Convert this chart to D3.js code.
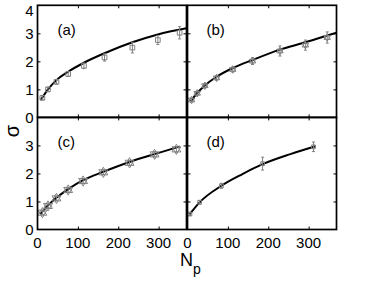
<!DOCTYPE html>
<html>
<head>
<meta charset="utf-8">
<script src="https://cdn.jsdelivr.net/npm/d3@7"></script>
<style>
  body { margin: 0; background: #fff; }
  text { font-family: "Liberation Sans", Arial, sans-serif; }
</style>
</head>
<body>
<div id="chart"></div>
<script>
// data
var nA = [12, 26, 47, 76, 115, 166, 235, 298, 352];
var sA = [0.70, 1.00, 1.27, 1.55, 1.84, 2.14, 2.49, 2.76, 3.02];
var eA = [0.07, 0.08, 0.08, 0.09, 0.10, 0.13, 0.19, 0.16, 0.22];
var fitNA = [8, 26, 47, 76, 115, 166, 235, 298, 369];
var fitSA = [0.62, 1.00, 1.33, 1.63, 1.95, 2.29, 2.68, 2.96, 3.18];

var nB = [10, 24, 43, 72, 112, 161, 229, 292, 346];
var sB = [0.62, 0.86, 1.13, 1.41, 1.71, 2.01, 2.37, 2.58, 2.85];
var eB = [0.06, 0.07, 0.07, 0.08, 0.09, 0.12, 0.18, 0.18, 0.20];
var fitNB = [8, 24, 43, 72, 112, 161, 229, 292, 346, 369];
var fitSB = [0.58, 0.87, 1.14, 1.45, 1.76, 2.05, 2.42, 2.68, 2.92, 3.02];

var nC = [12, 26, 47, 76, 113, 163, 228, 290, 344];
var sC = [0.60, 0.84, 1.11, 1.41, 1.73, 2.04, 2.38, 2.68, 2.86];
var eC = [0.06, 0.06, 0.07, 0.07, 0.08, 0.08, 0.09, 0.09, 0.10];
var fitNC = [7, 26, 47, 76, 113, 163, 228, 290, 352];
var fitSC = [0.55, 0.86, 1.13, 1.44, 1.76, 2.06, 2.41, 2.69, 2.96];

var nD = [6, 30, 84, 186, 312];
var sD = [0.55, 0.97, 1.56, 2.35, 2.95];
var eD = [0.05, 0.07, 0.09, 0.23, 0.17];
var fitND = [5, 30, 84, 135, 186, 255, 317];
var fitSD = [0.54, 0.97, 1.56, 1.97, 2.33, 2.69, 2.97];

var xTicks = [0, 100, 200, 300];
var yTicks = [0, 1, 2, 3, 4];
var panelLabels = ["(a)", "(b)", "(c)", "(d)"];

var W = 374, H = 281;
var svg = d3.select("#chart").append("svg")
    .attr("width", W).attr("height", H);

var colX = [37.5, 187.5], pw = 149;
var rowY = [5.3, 117.4], ph = 112.1;

var panels = [
  {n: nA, s: sA, e: eA, fn: fitNA, fs: fitSA, col: 0, row: 0, mark: "square"},
  {n: nB, s: sB, e: eB, fn: fitNB, fs: fitSB, col: 1, row: 0, mark: "david"},
  {n: nC, s: sC, e: eC, fn: fitNC, fs: fitSC, col: 0, row: 1, mark: "star"},
  {n: nD, s: sD, e: eD, fn: fitND, fs: fitSD, col: 1, row: 1, mark: "box"}
];

var grey = "#808080";

panels.forEach(function(p, i) {
  var x = d3.scaleLinear().domain([0, 369]).range([colX[p.col], colX[p.col] + pw]);
  var y = d3.scaleLinear().domain([0, 4]).range([rowY[p.row] + ph, rowY[p.row]]);
  var g = svg.append("g");

  // inward ticks on all sides
  var bottomAx = d3.axisBottom(x).tickValues(xTicks.slice(1)).tickSize(-3).tickFormat("");
  var topAx = d3.axisTop(x).tickValues(xTicks.slice(1)).tickSize(-3).tickFormat("");
  var leftAx = d3.axisLeft(y).tickValues([1, 2, 3]).tickSize(-3).tickFormat("");
  var rightAx = d3.axisRight(y).tickValues([1, 2, 3]).tickSize(-3).tickFormat("");
  g.append("g").attr("transform", "translate(0," + y(0) + ")").call(bottomAx);
  g.append("g").attr("transform", "translate(0," + y(4) + ")").call(topAx);
  g.append("g").attr("transform", "translate(" + x(0) + ",0)").call(leftAx);
  g.append("g").attr("transform", "translate(" + x(369) + ",0)").call(rightAx);
  g.selectAll(".domain").remove();
  g.selectAll(".tick line").attr("stroke", "#000").attr("stroke-width", 1);

  // tick labels ("4" is pushed down to stay inside the page, as in the original)
  if (p.col == 0) {
    var yl = p.row == 0 ? yTicks : yTicks.slice(0, 4);
    g.selectAll(".yl").data(yl).enter().append("text")
      .attr("x", x(0) - 4).attr("y", function(d) { return Math.max(y(d) + 5.5, 15.5); })
      .attr("text-anchor", "end").attr("font-size", 15)
      .text(function(d) { return d; });
  }
  if (p.row == 1) {
    g.selectAll(".xl").data(xTicks).enter().append("text")
      .attr("x", function(d) { return x(d); }).attr("y", y(0) + 18.5)
      .attr("text-anchor", "middle").attr("font-size", 15)
      .text(function(d) { return d; });
  }

  // fit curve
  var line = d3.line()
    .x(function(d) { return x(d[0]); })
    .y(function(d) { return y(d[1]); })
    .curve(d3.curveMonotoneX);
  g.append("path").datum(d3.zip(p.fn, p.fs))
    .attr("d", line).attr("fill", "none")
    .attr("stroke", "#000").attr("stroke-width", 2);

  // error bars and markers
  var pts = d3.zip(p.n, p.s, p.e);
  var eb = g.selectAll(".eb").data(pts).enter().append("g");
  eb.append("line")
    .attr("x1", function(d) { return x(d[0]); }).attr("x2", function(d) { return x(d[0]); })
    .attr("y1", function(d) { return y(d[1] - d[2]); }).attr("y2", function(d) { return y(d[1] + d[2]); })
    .attr("stroke", grey).attr("stroke-width", 1);
  [-1, 1].forEach(function(sg) {
    eb.append("line")
      .attr("x1", function(d) { return x(d[0]) - 1.5; }).attr("x2", function(d) { return x(d[0]) + 1.5; })
      .attr("y1", function(d) { return y(d[1] + sg * d[2]); }).attr("y2", function(d) { return y(d[1] + sg * d[2]); })
      .attr("stroke", grey).attr("stroke-width", 1);
  });

  var sym;
  if (p.mark == "square") sym = [d3.symbol().type(d3.symbolSquare).size(22)()];
  else if (p.mark == "box") sym = [d3.symbol().type(d3.symbolSquare).size(14)()];
  else if (p.mark == "david") sym = [d3.symbol().type(d3.symbolTriangle).size(18)(), d3.symbol().type(d3.symbolTriangle).size(18)()];
  else sym = [d3.symbol().type(d3.symbolTriangle).size(34)(), d3.symbol().type(d3.symbolTriangle).size(34)()];
  sym.forEach(function(s, k) {
    g.selectAll(".m" + k).data(pts).enter().append("path")
      .attr("d", s)
      .attr("transform", function(d) {
        return "translate(" + x(d[0]) + "," + y(d[1]) + ")" + (k == 1 ? " rotate(180)" : "");
      })
      .attr("fill", "none").attr("stroke", grey).attr("stroke-width", 1);
  });

  // frame
  g.append("rect")
    .attr("x", x(0)).attr("y", y(4))
    .attr("width", x(369) - x(0)).attr("height", y(0) - y(4))
    .attr("fill", "none").attr("stroke", "#000").attr("stroke-width", 1.7);

  g.append("text")
    .attr("x", x(0) + 20 + (p.col == 1 ? -1 : 0)).attr("y", y(4) + 30)
    .attr("font-size", 15).text(panelLabels[i]);
});

// axis titles
svg.append("text")
  .attr("transform", "translate(19,131) rotate(-90)")
  .attr("text-anchor", "middle").attr("font-size", 20)
  .text("σ");
var nt = svg.append("text")
  .attr("x", 180).attr("y", 266).attr("font-size", 18);
nt.append("tspan").text("N");
nt.append("tspan").attr("dy", 8).attr("font-size", 14).text("p");
</script>
</body>
</html>
